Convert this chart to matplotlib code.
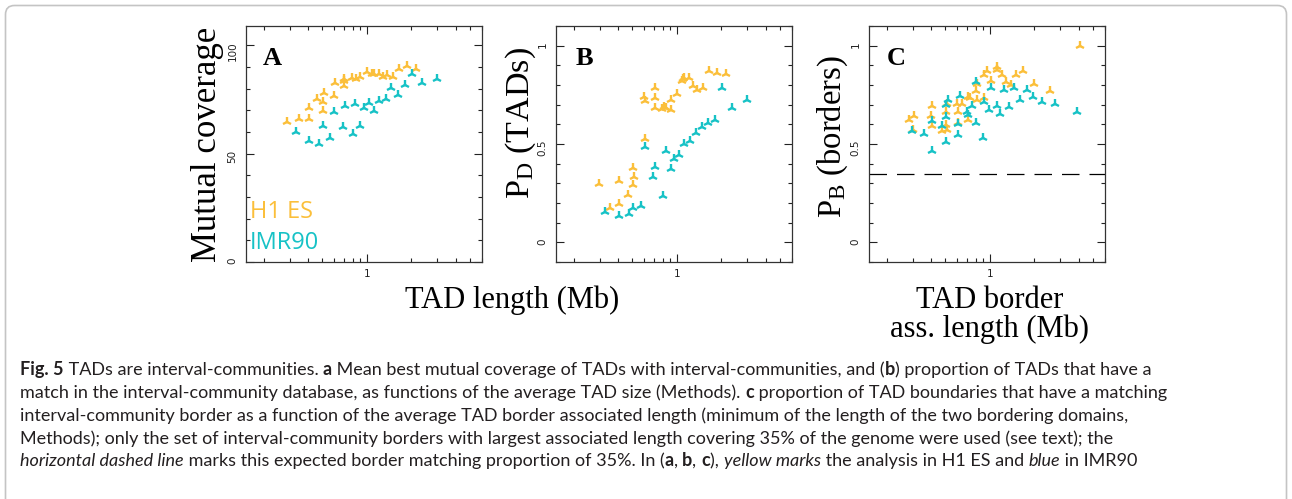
import numpy as np
import matplotlib
matplotlib.use("Agg")
import matplotlib.pyplot as plt
from matplotlib.patches import FancyBboxPatch
from matplotlib.transforms import IdentityTransform
from matplotlib.ticker import LogLocator, MultipleLocator, NullFormatter

W, H = 1292, 499

# -----------------------------
# Data
# -----------------------------

# A: mutual coverage vs TAD length (Mb)
a_h1_x = [0.289, 0.347, 0.406, 0.406, 0.457, 0.504, 0.515, 0.504, 0.601, 0.608, 0.703, 0.703, 0.700,
          0.796, 0.839, 0.897, 1.005, 1.076, 1.115, 1.205, 1.289, 1.371, 1.49, 1.645, 1.864, 2.13]
a_h1_y = [64.8, 65.9, 66.1, 71.0, 75.2, 73.9, 78.1, 69.7, 76.6, 82.6, 81.2, 84.7, 83.5,
          85.2, 84.3, 85.5, 87.8, 87.0, 87.0, 87.0, 85.5, 86.2, 85.5, 89.3, 90.7, 89.3]
a_imr_x = [0.330, 0.406, 0.476, 0.504, 0.565, 0.601, 0.685, 0.710, 0.808, 0.834, 0.897, 0.959,
           1.032, 1.11, 1.21, 1.337, 1.46, 1.61, 1.80, 2.02, 2.36, 2.96]
a_imr_y = [60.0, 56.1, 54.6, 62.8, 57.3, 69.4, 62.4, 72.0, 59.2, 72.9, 63.0, 71.2,
           73.5, 69.7, 74.4, 75.1, 80.3, 77.2, 81.8, 86.7, 82.6, 84.5]

# B: P_D (TADs) vs TAD length (Mb)
b_h1_x = [1.645, 1.855, 2.13, 1.093, 1.12, 1.20, 1.076, 1.289, 1.37, 1.505, 0.707, 1.005, 0.601,
          0.61, 0.709, 0.911, 0.713, 0.796, 0.82, 0.843, 0.907, 0.608, 0.507, 0.515, 0.406, 0.507,
          0.296, 0.464, 0.407, 0.351]
b_h1_y = [0.873, 0.863, 0.854, 0.831, 0.836, 0.834, 0.820, 0.795, 0.773, 0.783, 0.783, 0.756, 0.738,
          0.72, 0.734, 0.722, 0.685, 0.678, 0.688, 0.682, 0.675, 0.525, 0.376, 0.332, 0.312, 0.293,
          0.295, 0.242, 0.196, 0.176]
b_imr_x = [2.02, 2.96, 2.35, 1.81, 1.61, 1.47, 1.344, 1.22, 1.11, 1.03, 0.958, 0.839, 0.907, 0.707,
           0.692, 0.808, 0.574, 0.507, 0.476, 0.407, 0.325, 0.61]
b_imr_y = [0.783, 0.725, 0.685, 0.624, 0.605, 0.585, 0.556, 0.515, 0.500, 0.444, 0.424, 0.463, 0.373,
           0.385, 0.334, 0.234, 0.186, 0.176, 0.144, 0.135, 0.154, 0.483]

# C: P_B (borders) vs TAD border associated length (Mb)
c_h1_x = [4.06, 1.11, 1.12, 0.959, 0.915, 1.21, 1.01, 1.51, 1.68, 1.99, 1.29, 1.38, 2.56, 0.813,
          0.808, 0.710, 0.733, 0.906, 0.813, 0.408, 0.51, 0.601, 0.647, 0.611, 0.707, 0.504, 0.305,
          0.282, 0.401, 0.406, 0.504, 0.51, 0.474, 0.608, 0.303]
c_h1_y = [1.0, 0.893, 0.876, 0.873, 0.853, 0.853, 0.822, 0.853, 0.873, 0.805, 0.814, 0.802, 0.771,
          0.805, 0.771, 0.741, 0.734, 0.734, 0.724, 0.693, 0.703, 0.703, 0.703, 0.664, 0.622, 0.663,
          0.644, 0.622, 0.644, 0.59, 0.598, 0.571, 0.568, 0.605, 0.571]
c_imr_x = [3.85, 2.74, 2.25, 1.96, 1.60, 1.77, 1.46, 1.25, 1.02, 0.808, 0.915, 1.115, 1.35, 1.168,
           0.985, 0.752, 0.627, 0.523, 0.504, 0.703, 0.71, 0.808, 0.901, 0.608, 0.608, 0.504, 0.474,
           0.406, 0.36, 0.297, 0.502, 0.408]
c_imr_y = [0.661, 0.703, 0.715, 0.737, 0.724, 0.775, 0.785, 0.775, 0.785, 0.814, 0.715, 0.695, 0.687,
           0.653, 0.673, 0.695, 0.743, 0.725, 0.700, 0.661, 0.649, 0.605, 0.530, 0.546, 0.602, 0.636,
           0.593, 0.615, 0.552, 0.565, 0.509, 0.463]
c_expected = 0.35

YELLOW = "#fbbf3a"
CYAN = "#17c2c6"
CAP_COLOR = "#231f20"

plt.rcParams["mathtext.fontset"] = "custom"
plt.rcParams["mathtext.rm"] = "Liberation Serif"
plt.rcParams["mathtext.it"] = "Liberation Serif:italic"

fig = plt.figure(figsize=(W / 100, H / 100), dpi=100)


def px_axes(left, top, right, bottom):
    return fig.add_axes([left / W, 1 - bottom / H, (right - left) / W, (bottom - top) / H])


def style_axes(ax, yticks, ylabels, yminor, ylim):
    ax.set_xscale("log")
    ax.set_xlim(0.152, 6.0)
    ax.set_ylim(*ylim)
    ax.set_xticks([1])
    ax.set_xticklabels(["1"])
    ax.xaxis.set_minor_locator(LogLocator(base=10, subs=(2, 3, 4, 5, 6, 7, 8, 9), numticks=20))
    ax.xaxis.set_minor_formatter(NullFormatter())
    ax.set_yticks(yticks)
    ax.set_yticklabels(ylabels)
    ax.yaxis.set_minor_locator(MultipleLocator(yminor))
    ax.tick_params(which="both", direction="in", top=True, right=True, width=0.8,
                   labelsize=7.5, colors="#222222")
    ax.tick_params(which="major", length=6)
    ax.tick_params(which="minor", length=3)
    ax.tick_params(axis="y", labelrotation=90, pad=6)
    ax.tick_params(axis="x", pad=5)
    for s in ax.spines.values():
        s.set_linewidth(0.9)
        s.set_color("#333333")


def scatter(ax, x, y, color):
    ax.plot(x, y, linestyle="none", marker="2", markersize=7, markeredgewidth=1.7,
            color=color)


SERIF = "Liberation Serif"

# Panel A
axA = px_axes(246, 26, 482, 262)
style_axes(axA, [0, 50, 100], ["0", "50", "100"], 10, (0, 109))
scatter(axA, a_h1_x, a_h1_y, YELLOW)
scatter(axA, a_imr_x, a_imr_y, CYAN)
axA.text(0.072, 0.835, "A", transform=axA.transAxes, family=SERIF, fontweight="bold",
         fontsize=19, va="baseline")
axA.text(0.015, 0.21, "H1 ES", transform=axA.transAxes, family="Open Sans", fontsize=17,
         color=YELLOW, va="center")
axA.text(0.015, 0.08, "IMR90", transform=axA.transAxes, family="Open Sans", fontsize=17,
         color=CYAN, va="center")
axA.text(-0.165, 0.5, "Mutual coverage", transform=axA.transAxes, family=SERIF, fontsize=25,
         rotation=90, ha="center", va="center")

# Panel B
axB = px_axes(556, 26, 792, 262)
style_axes(axB, [0, 0.5, 1], ["0", "0.5", "1"], 0.1, (-0.1, 1.1))
scatter(axB, b_h1_x, b_h1_y, YELLOW)
scatter(axB, b_imr_x, b_imr_y, CYAN)
axB.text(0.085, 0.835, "B", transform=axB.transAxes, family=SERIF, fontweight="bold",
         fontsize=19, va="baseline")
axB.text(-0.15, 0.59, r"P$_\mathrm{D}$ (TADs)", transform=axB.transAxes, family=SERIF,
         fontsize=24.5, rotation=90, ha="center", va="center")

# Panel C
axC = px_axes(869, 26, 1105, 262)
style_axes(axC, [0, 0.5, 1], ["0", "0.5", "1"], 0.1, (-0.1, 1.1))
axC.axhline(c_expected, color="black", lw=0.9, dashes=(14, 8))
scatter(axC, c_h1_x, c_h1_y, YELLOW)
scatter(axC, c_imr_x, c_imr_y, CYAN)
axC.text(0.076, 0.835, "C", transform=axC.transAxes, family=SERIF, fontweight="bold",
         fontsize=19, va="baseline")
axC.text(-0.155, 0.53, r"P$_\mathrm{B}$ (borders)", transform=axC.transAxes, family=SERIF,
         fontsize=23.5, rotation=90, ha="center", va="center")

# shared x labels
fig.text(512 / W, 1 - 300 / H, "TAD length (Mb)", family=SERIF, fontsize=22,
         ha="center", va="center")
fig.text(990 / W, 1 - 300 / H, "TAD border", family=SERIF, fontsize=22,
         ha="center", va="center")
fig.text(990 / W, 1 - 329 / H, "ass. length (Mb)", family=SERIF, fontsize=22,
         ha="center", va="center")

# frame round the figure
frame = FancyBboxPatch((5.5, -30), W - 11, H - 5.5 + 30,
                       boxstyle="round,pad=0,rounding_size=9",
                       transform=IdentityTransform(), fill=False,
                       edgecolor="#c4c4c4", linewidth=1.2)
fig.patches.append(frame)

# -----------------------------
# Caption (rich text, laid out segment by segment)
# -----------------------------
caption = [
    [("Fig. 5", "b"), (" TADs are interval-communities. ", ""), ("a", "b"),
     (" Mean best mutual coverage of TADs with interval-communities, and (", ""), ("b", "b"),
     (") proportion of TADs that have a", "")],
    [("match in the interval-community database, as functions of the average TAD size (Methods). ", ""),
     ("c", "b"), (" proportion of TAD boundaries that have a matching", "")],
    [("interval-community border as a function of the average TAD border associated length "
      "(minimum of the length of the two bordering domains,", "")],
    [("Methods); only the set of interval-community borders with largest associated length "
      "covering 35% of the genome were used (see text); the", "")],
    [("horizontal dashed line", "i"), (" marks this expected border matching proportion of 35%. In (", ""),
     ("a", "b"), (", ", ""), ("b", "b"), (", ", ""), ("c", "b"), ("), ", ""), ("yellow marks", "i"),
     (" the analysis in H1 ES and ", ""), ("blue", "i"), (" in IMR90", "")],
]
cap_font = "Lato"
renderer = fig.canvas.get_renderer()


def seg_width(txt, style, size):
    kw = dict(family=cap_font, fontsize=size)
    if style == "b":
        kw["fontweight"] = "bold"
    if style == "i":
        kw["fontstyle"] = "italic"
    t1 = fig.text(0, 0, "|" + txt + "|", **kw)
    t2 = fig.text(0, 0, "||", **kw)
    w = t1.get_window_extent(renderer).width - t2.get_window_extent(renderer).width
    t1.remove()
    t2.remove()
    return w


# fit caption size to the width of the third line
ref_w = seg_width(caption[2][0][0], "", 12)
cap_size = 12 * 1103 / ref_w

baselines = [375, 398, 421, 444, 466]
for line, yb in zip(caption, baselines):
    x = 20
    for txt, style in line:
        kw = dict(family=cap_font, fontsize=cap_size, color=CAP_COLOR)
        if style == "b":
            kw["fontweight"] = "bold"
        if style == "i":
            kw["fontstyle"] = "italic"
        fig.text(x / W, 1 - yb / H, txt, ha="left", va="baseline", **kw)
        x += seg_width(txt, style, cap_size)

fig.savefig("out.png", dpi=100)
